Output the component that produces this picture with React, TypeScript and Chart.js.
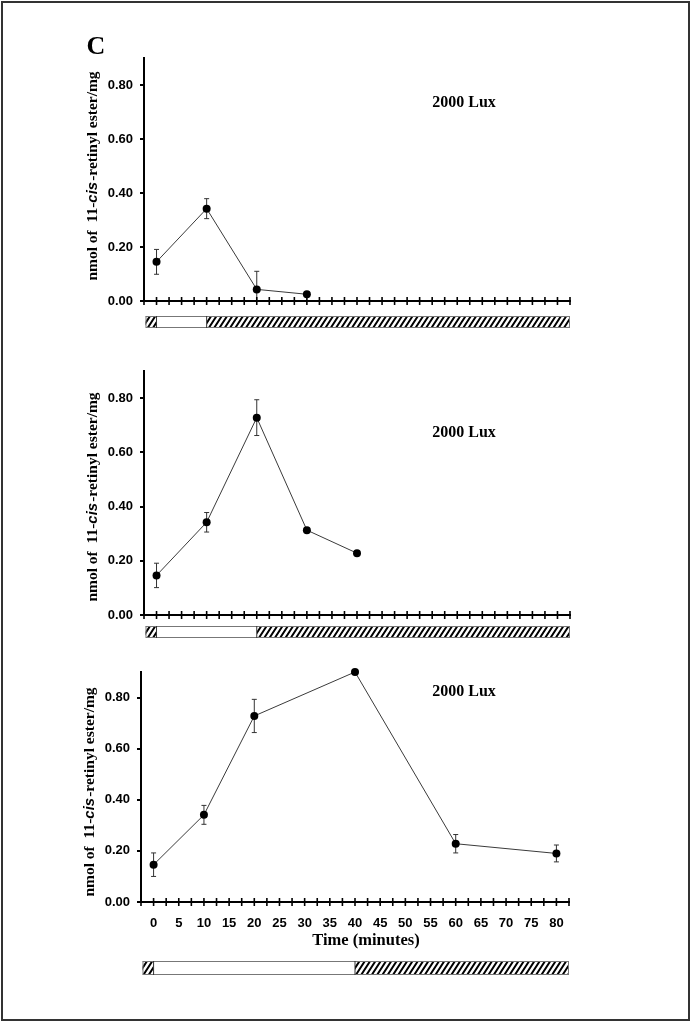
import React, { useEffect, useRef } from "react";
import { Chart, registerables } from "chart.js";

Chart.register(...registerables);

// ---------- data ----------
const xMin = -2.5;
const xMax = 82.5;
const xStep = 2.5;
const yMin = 0;
const yMax = 0.9;
const yStep = 0.2;

const panel1Times = [0, 10, 20, 30];
const panel1Values = [0.145, 0.342, 0.043, 0.025];
const panel1Errors = [0.046, 0.037, 0.067, 0];
const panel1Light = [0, 10];

const panel2Times = [0, 10, 20, 30, 40];
const panel2Values = [0.146, 0.342, 0.728, 0.313, 0.228];
const panel2Errors = [0.045, 0.036, 0.066, 0, 0];
const panel2Light = [0, 20];

const panel3Times = [0, 10, 20, 40, 60, 80];
const panel3Values = [0.146, 0.341, 0.728, 0.9, 0.228, 0.19];
const panel3Errors = [0.046, 0.037, 0.065, 0, 0.036, 0.033];
const panel3Light = [0, 40];

const barRange = [-2.5, 82.5];

const luxLabel = "2000 Lux";
const xAxisTitle = "Time (minutes)";
const yTitleParts = ["nmol of  11-", "cis", "-retinyl ester/mg"];
const panelLetter = "C";

// ---------- layout (styles) ----------
type PanelCfg = {
  times: number[];
  values: number[];
  errors: number[];
  light: number[];
  top: number;
  height: number;
  padTop: number;
  padBottom: number;
  padRight: number;
  yWidth: number;
  xHeight: number;
  showXLabels: boolean;
  luxX: number;
  luxY: number;
  yTitleX: number;
  yTitleY: number;
  barOffset: number;
  barHeight: number;
  letter: boolean;
  xTitle: boolean;
};

const panels: PanelCfg[] = [
  {
    times: panel1Times, values: panel1Values, errors: panel1Errors, light: panel1Light,
    top: 0, height: 340, padTop: 58, padBottom: 29, padRight: 120, yWidth: 144, xHeight: 10,
    showXLabels: false, luxX: 464, luxY: 103, yTitleX: 93, yTitleY: 176,
    barOffset: 15, barHeight: 12, letter: true, xTitle: false,
  },
  {
    times: panel2Times, values: panel2Values, errors: panel2Errors, light: panel2Light,
    top: 345, height: 300, padTop: 26, padBottom: 20, padRight: 120, yWidth: 144, xHeight: 10,
    showXLabels: false, luxX: 464, luxY: 88, yTitleX: 93, yTitleY: 152,
    barOffset: 11, barHeight: 12, letter: false, xTitle: false,
  },
  {
    times: panel3Times, values: panel3Values, errors: panel3Errors, light: panel3Light,
    top: 650, height: 340, padTop: 22, padBottom: 58, padRight: 121, yWidth: 141, xHeight: 30,
    showXLabels: true, luxX: 464, luxY: 42, yTitleX: 90, yTitleY: 142,
    barOffset: 59, barHeight: 14, letter: false, xTitle: true,
  },
];

const serif = "'Liberation Serif', 'Times New Roman', serif";
const sans = "'Liberation Sans', Arial, sans-serif";

function makePlugin(p: PanelCfg) {
  return {
    id: "decor",
    beforeDatasetsDraw(chart: any) {
      const ctx = chart.ctx;
      const xs = chart.scales.x;
      const ys = chart.scales.y;
      const a = chart.chartArea;
      ctx.save();
      ctx.beginPath();
      ctx.rect(a.left, a.top - 10, a.right - a.left, a.bottom - a.top + 10);
      ctx.clip();
      ctx.strokeStyle = "#333";
      ctx.lineWidth = 1;
      p.times.forEach((t, i) => {
        const e = p.errors[i];
        if (!e) return;
        const px = xs.getPixelForValue(t);
        const y1 = ys.getPixelForValue(p.values[i] + e);
        const y2 = ys.getPixelForValue(p.values[i] - e);
        ctx.beginPath();
        ctx.moveTo(px, y1);
        ctx.lineTo(px, y2);
        ctx.moveTo(px - 2.5, y1);
        ctx.lineTo(px + 2.5, y1);
        ctx.moveTo(px - 2.5, y2);
        ctx.lineTo(px + 2.5, y2);
        ctx.stroke();
      });
      ctx.restore();
    },
    afterDraw(chart: any) {
      const ctx = chart.ctx;
      const xs = chart.scales.x;
      const ys = chart.scales.y;
      const axisY = ys.getPixelForValue(0);
      ctx.save();
      // crossing x ticks
      ctx.strokeStyle = "#000";
      ctx.lineWidth = 1.6;
      xs.ticks.forEach((t: any) => {
        const px = xs.getPixelForValue(t.value);
        ctx.beginPath();
        ctx.moveTo(px, axisY - 4);
        ctx.lineTo(px, axisY + 4);
        ctx.stroke();
      });
      // light/dark bar
      const bx0 = xs.getPixelForValue(barRange[0]) + 1.5;
      const bx1 = xs.getPixelForValue(p.light[0]);
      const bx2 = xs.getPixelForValue(p.light[1]);
      const bx3 = xs.getPixelForValue(barRange[1]);
      const by = axisY + p.barOffset;
      const bh = p.barHeight;
      const run = bh * 0.65;
      const hatch = (l: number, r: number) => {
        ctx.save();
        ctx.beginPath();
        ctx.rect(l, by, r - l, bh);
        ctx.clip();
        ctx.fillStyle = "#fff";
        ctx.fillRect(l, by, r - l, bh);
        ctx.strokeStyle = "#000";
        ctx.lineWidth = 2;
        ctx.beginPath();
        for (let s = l - run - 6; s < r + run; s += 5.3) {
          ctx.moveTo(s, by + bh);
          ctx.lineTo(s + run, by);
        }
        ctx.stroke();
        ctx.restore();
      };
      hatch(bx0, bx1);
      hatch(bx2, bx3);
      ctx.fillStyle = "#fff";
      ctx.fillRect(bx1, by, bx2 - bx1, bh);
      ctx.strokeStyle = "#777";
      ctx.lineWidth = 1;
      ctx.strokeRect(bx0 + 0.5, by + 0.5, bx3 - bx0 - 1, bh - 1);
      ctx.strokeStyle = "#333";
      ctx.beginPath();
      ctx.moveTo(bx1, by);
      ctx.lineTo(bx1, by + bh);
      ctx.moveTo(bx2, by);
      ctx.lineTo(bx2, by + bh);
      ctx.stroke();

      // lux label
      ctx.fillStyle = "#000";
      ctx.font = `bold 16px ${serif}`;
      ctx.textAlign = "center";
      ctx.textBaseline = "middle";
      ctx.fillText(luxLabel, p.luxX, p.luxY);

      // x title
      if (p.xTitle) {
        ctx.font = `bold 16.5px ${serif}`;
        ctx.fillText(xAxisTitle, 366, 291);
      }
      // letter
      if (p.letter) {
        ctx.font = `bold 26px ${serif}`;
        ctx.fillText(panelLetter, 96, 47);
      }

      // y title (mixed fonts)
      const fonts = [
        `bold 15.5px ${serif}`,
        `italic bold 15px ${sans}`,
        `bold 15.5px ${serif}`,
      ];
      const widths = yTitleParts.map((s, i) => {
        ctx.font = fonts[i];
        return ctx.measureText(s).width + (i === 1 ? 1 : 0);
      });
      const total = widths.reduce((s, w) => s + w, 0);
      ctx.translate(p.yTitleX, p.yTitleY);
      ctx.rotate(-Math.PI / 2);
      ctx.textAlign = "left";
      let cx = -total / 2;
      yTitleParts.forEach((s, i) => {
        ctx.font = fonts[i];
        ctx.fillText(s, cx, 0);
        cx += widths[i];
      });
      ctx.restore();
    },
  };
}

function Panel({ cfg }: { cfg: PanelCfg }) {
  const ref = useRef<HTMLCanvasElement | null>(null);
  useEffect(() => {
    if (!ref.current) return;
    const chart = new Chart(ref.current, {
      type: "line",
      data: {
        datasets: [
          {
            data: cfg.times.map((t, i) => ({ x: t, y: cfg.values[i] })),
            borderColor: "#3a3a3a",
            borderWidth: 1,
            pointRadius: 4,
            pointHoverRadius: 4,
            pointBackgroundColor: "#000",
            pointBorderColor: "#000",
            pointBorderWidth: 0,
            tension: 0,
            clip: false as any,
          },
        ],
      },
      options: {
        animation: false,
        responsive: false,
        events: [],
        layout: {
          padding: { left: 0, right: cfg.padRight, top: cfg.padTop, bottom: cfg.padBottom },
        },
        plugins: {
          legend: { display: false },
          tooltip: { enabled: false },
        },
        scales: {
          x: {
            type: "linear",
            min: xMin,
            max: xMax,
            afterFit: (s: any) => {
              s.height = cfg.xHeight;
            },
            ticks: {
              stepSize: xStep,
              includeBounds: false,
              autoSkip: false,
              maxRotation: 0,
              minRotation: 0,
              display: cfg.showXLabels,
              padding: 10,
              color: "#000",
              font: { family: sans, weight: "bold", size: 13 },
              callback: (v: any) => {
                const n = Number(v);
                return n >= 0 && Math.abs(n % 5) < 1e-9 ? String(n) : "";
              },
            },
            grid: { display: false, drawTicks: true, tickLength: 4 },
            border: { display: true, color: "#000", width: 2 },
          },
          y: {
            type: "linear",
            min: yMin,
            max: yMax,
            afterFit: (s: any) => {
              s.width = cfg.yWidth;
            },
            ticks: {
              stepSize: yStep,
              includeBounds: false,
              padding: 7,
              color: "#000",
              font: { family: sans, weight: "bold", size: 13 },
              callback: (v: any) => Number(v).toFixed(2),
            },
            grid: {
              display: true,
              drawOnChartArea: false,
              drawTicks: true,
              tickLength: 4,
              color: "#000",
              lineWidth: 2,
            },
            border: { display: true, color: "#000", width: 2 },
          },
        },
      } as any,
      plugins: [makePlugin(cfg) as any],
    });
    return () => chart.destroy();
  }, [cfg]);
  return (
    <canvas
      ref={ref}
      width={690}
      height={cfg.height}
      style={{ position: "absolute", left: 0, top: cfg.top, width: 690, height: cfg.height }}
    />
  );
}

export default function App() {
  return (
    <div
      style={{
        position: "absolute",
        left: 0,
        top: 0,
        width: 690,
        height: 1021,
        background: "#fff",
        overflow: "hidden",
      }}
    >
      <div
        style={{
          position: "absolute",
          left: 1,
          top: 1,
          width: 689,
          height: 1020,
          border: "2px solid #333",
          boxSizing: "border-box",
        }}
      />
      {panels.map((p, i) => (
        <Panel key={i} cfg={p} />
      ))}
    </div>
  );
}
